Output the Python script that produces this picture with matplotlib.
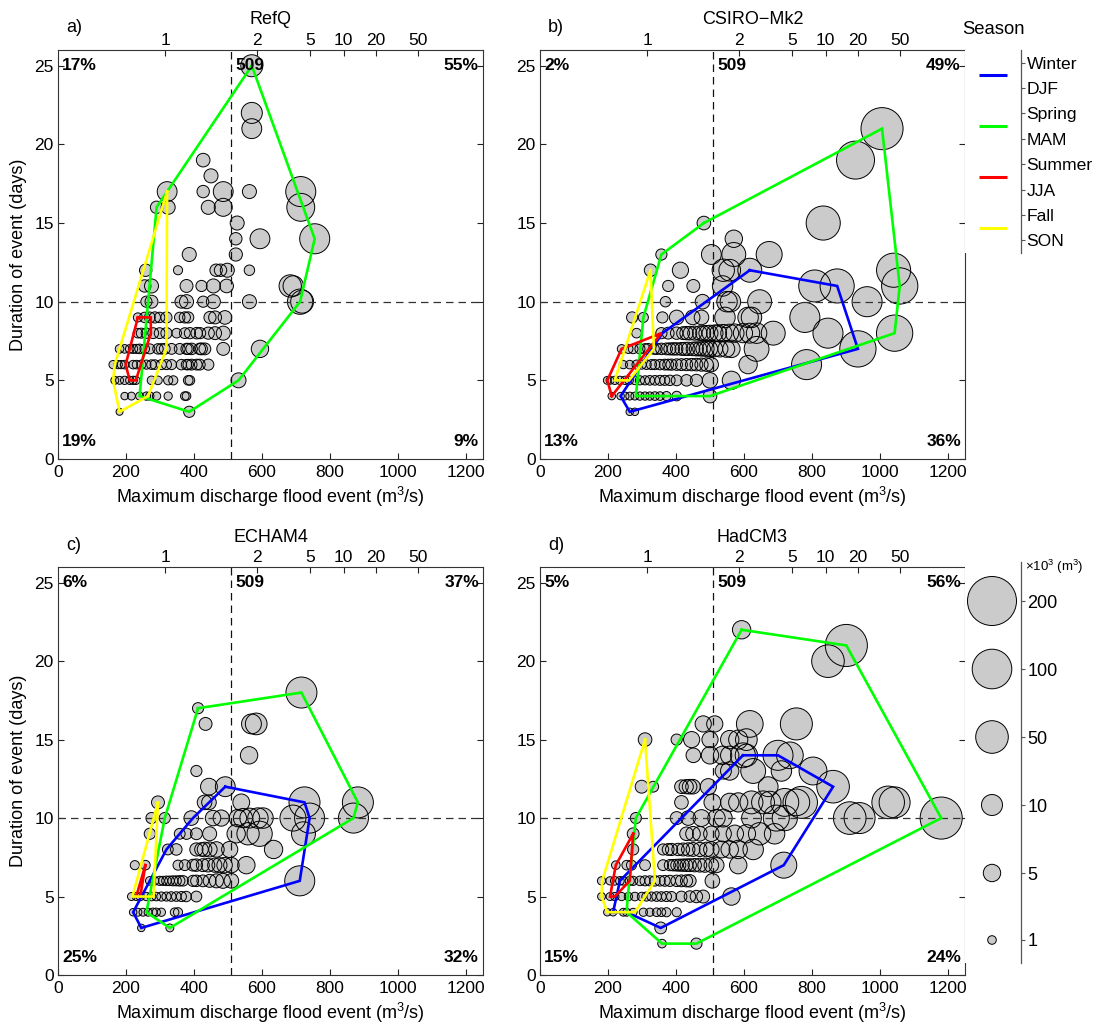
import numpy as np
import matplotlib
matplotlib.use("Agg")
import matplotlib.pyplot as plt

plt.rcParams['font.family'] = ['Liberation Sans', 'DejaVu Sans']
plt.rcParams['font.size'] = 12
plt.rcParams['mathtext.fontset'] = 'custom'
plt.rcParams['mathtext.rm'] = 'Liberation Sans'

# ---------------------------------------------------------------- data
Q_THRESHOLD = 509          # m3/s
D_THRESHOLD = 10           # days

RETURN_PERIODS = ["1", "2", "5", "10", "20", "50"]
RETURN_PERIOD_Q = [315, 585, 741, 840, 934, 1058]

SEASONS = ["Winter", "DJF", "Spring", "MAM", "Summer", "JJA", "Fall", "SON"]
VOLUME_LEGEND = [200, 100, 50, 10, 5, 1]   # x10^3 m3

# RefQ events: peak discharge, duration, volume
refq_q = [570, 570, 570, 427, 450,
          321, 427, 486, 563, 714,
          290, 324, 442, 486, 714,
          527,
          523, 594, 755,
          386, 523,
          258, 353, 465, 478, 498, 563,
          255, 275, 378, 422, 457, 496, 683, 692,
          260, 275, 363, 378, 427, 457, 563, 712, 718,
          235, 255, 270, 285, 299, 319, 358, 373, 383, 447, 462, 491,
          235, 245, 260, 280, 299, 319, 349, 373, 388, 408, 418, 442, 462, 486,
          181, 196, 211, 221, 231, 240, 255, 270, 294, 304, 314, 334, 358, 378, 383, 393, 417, 422, 432, 486, 594,
          162, 177, 186, 196, 221, 231, 245, 260, 275, 285, 304, 319, 334, 363, 378, 383, 393, 408, 417, 442,
          167, 181, 196, 211, 221, 229, 275, 294, 324, 339, 383, 388, 531,
          196, 216, 240, 260, 270, 290, 324, 373, 378,
          181, 386]
refq_d = [25, 22, 21, 19, 18,
          17, 17, 17, 17, 17,
          16, 16, 16, 16, 16,
          15,
          14, 14, 14,
          13, 13,
          12, 12, 12, 12, 12, 12,
          11, 11, 11, 11, 11, 11, 11, 11,
          10, 10, 10, 10, 10, 10, 10, 10, 10,
          9, 9, 9, 9, 9, 9, 9, 9, 9, 9, 9, 9,
          8, 8, 8, 8, 8, 8, 8, 8, 8, 8, 8, 8, 8, 8,
          7, 7, 7, 7, 7, 7, 7, 7, 7, 7, 7, 7, 7, 7, 7, 7, 7, 7, 7, 7, 7,
          6, 6, 6, 6, 6, 6, 6, 6, 6, 6, 6, 6, 6, 6, 6, 6, 6, 6, 6, 6,
          5, 5, 5, 5, 5, 5, 5, 5, 5, 5, 5, 5, 5,
          4, 4, 4, 4, 4, 4, 4, 4, 4,
          3, 3]
refq_v = [11.5, 10, 8, 2.5, 2.7,
          8, 2, 8, 2.7, 35,
          2, 2.7, 2.7, 5.6, 26,
          2.7,
          2, 8, 35,
          2.7, 2.3,
          2, 1.1, 2, 2, 2.7, 1.4,
          2, 2.7, 2.2, 1.6, 2.7, 2.5, 12, 9,
          1.6, 2.2, 2.2, 2.7, 1.6, 2.7, 2.7, 18, 13,
          1.1, 1.4, 1.5, 1.6, 1.4, 1.6, 1.4, 1.6, 1.6, 1.9, 2.2, 2.5,
          1.2, 1.3, 1.4, 1.5, 1.5, 1.6, 1.2, 1.5, 1.6, 1.7, 1.6, 1.9, 2.2, 2.7,
          1, 1, 1, 1.1, 1.1, 1.2, 1.2, 1.3, 1.4, 1.4, 1.5, 1.5, 1.5, 1.6, 1.6, 1.7, 1.7, 1.8, 1.8, 2.2, 5,
          0.9, 0.9, 0.9, 1, 1, 1, 1.1, 1.1, 1.2, 1.2, 1.3, 1.3, 1.3, 1.4, 1.4, 1.4, 1.5, 1.5, 1.5, 1.6,
          0.8, 0.8, 0.9, 0.9, 0.9, 0.9, 1, 1, 1.1, 1.1, 1.2, 1.2, 3.2,
          0.7, 0.8, 0.8, 0.9, 0.9, 0.9, 0.9, 1, 1,
          0.6, 1.6]

# CSIRO-Mk2 events
csiro_q = [1006, 928, 482, 833, 570,
           357, 504, 570, 674,
           325, 413, 539, 558, 617, 1040,
           377, 451, 537, 808, 874, 1058,
           369, 478, 550, 560, 646, 962,
           271, 304, 360, 402, 449, 475, 544, 612, 622, 779,
           284, 357, 377, 402, 421, 431, 441, 455, 470, 480, 490, 500, 514, 524, 539, 558, 573, 597, 617, 637, 686, 847, 1043,
           240, 260, 274, 294, 309, 318, 335, 343, 357, 372, 382, 392, 402, 416, 426, 436, 450, 460, 470, 480, 490, 500, 514, 529, 548, 563, 637, 935,
           245, 264, 284, 299, 313, 328, 338, 353, 367, 377, 387, 402, 416, 431, 446, 460, 475, 490, 504, 612, 784,
           198, 206, 220, 235, 250, 262, 279, 294, 309, 323, 338, 353, 367, 382, 402, 431, 460, 500, 563,
           211, 237, 250, 264, 279, 294, 309, 323, 338, 353, 372, 402, 500,
           264, 279]
csiro_d = [21, 19, 15, 15, 14,
           13, 13, 13, 13,
           12, 12, 12, 12, 12, 12,
           11, 11, 11, 11, 11, 11,
           10, 10, 10, 10, 10, 10,
           9, 9, 9, 9, 9, 9, 9, 9, 9, 9,
           8, 8, 8, 8, 8, 8, 8, 8, 8, 8, 8, 8, 8, 8, 8, 8, 8, 8, 8, 8, 8, 8, 8,
           7, 7, 7, 7, 7, 7, 7, 7, 7, 7, 7, 7, 7, 7, 7, 7, 7, 7, 7, 7, 7, 7, 7, 7, 7, 7, 7, 7,
           6, 6, 6, 6, 6, 6, 6, 6, 6, 6, 6, 6, 6, 6, 6, 6, 6, 6, 6, 6, 6,
           5, 5, 5, 5, 5, 5, 5, 5, 5, 5, 5, 5, 5, 5, 5, 5, 5, 5, 5,
           4, 4, 4, 4, 4, 4, 4, 4, 4, 4, 4, 4, 4,
           3, 3]
csiro_v = [120, 85, 2.5, 58, 5,
           1.6, 8, 15, 20,
           2, 4, 12, 11, 15, 58,
           1.6, 2.2, 9, 46, 58, 72,
           1.4, 3, 9, 9, 15, 35,
           1.6, 1.3, 1.6, 3, 3, 3, 9, 9, 9, 35,
           1.2, 1.6, 1.8, 2, 2.2, 2.4, 2.5, 2.7, 3, 3.2, 3.5, 3.8, 4.2, 4.5, 5, 5.5, 6, 7, 8, 9, 15, 35, 72,
           1, 1.1, 1.2, 1.3, 1.4, 1.5, 1.5, 1.6, 1.7, 1.8, 1.9, 2, 2, 2.2, 2.3, 2.4, 2.5, 2.7, 2.8, 3, 3.2, 3.4, 3.7, 4, 4.5, 5, 17, 72,
           0.9, 1, 1.1, 1.1, 1.2, 1.3, 1.3, 1.4, 1.5, 1.5, 1.6, 1.7, 1.8, 1.9, 2, 2.1, 2.3, 2.5, 2.8, 6, 35,
           0.8, 0.8, 0.9, 0.9, 0.9, 1, 1, 1.1, 1.1, 1.2, 1.2, 1.3, 1.3, 1.4, 1.5, 1.7, 1.9, 3.5, 6,
           0.7, 0.7, 0.8, 0.8, 0.8, 0.9, 0.9, 0.9, 1, 1, 1.1, 1.2, 2.5,
           0.7, 0.7]

# ECHAM4 events
echam_q = [716, 412, 434, 569, 583, 562, 407, 444, 492,
           294, 431, 444, 539, 725, 882,
           275, 314, 392, 456, 480, 529, 544, 564, 588, 603, 691, 740, 869,
           270, 358, 378, 407, 446, 524, 559, 593, 722,
           323, 348, 407, 422, 431, 446, 466, 505, 634,
           226, 257, 353, 373, 397, 407, 426, 441, 461, 475, 490, 510, 554,
           270, 284, 299, 309, 319, 328, 338, 348, 358, 368, 397, 407, 426, 446, 466, 485, 510, 711,
           216, 230, 242, 260, 275, 289, 304, 319, 333, 348, 363, 377, 407,
           221, 235, 250, 265, 279, 289, 304, 343, 353,
           245, 329]
echam_d = [18, 17, 16, 16, 16, 14, 13, 12, 12,
           11, 11, 11, 11, 11, 11,
           10, 10, 10, 10, 10, 10, 10, 10, 10, 10, 10, 10, 10,
           9, 9, 9, 9, 9, 9, 9, 9, 9,
           8, 8, 8, 8, 8, 8, 8, 8, 8,
           7, 7, 7, 7, 7, 7, 7, 7, 7, 7, 7, 7, 7,
           6, 6, 6, 6, 6, 6, 6, 6, 6, 6, 6, 6, 6, 6, 6, 6, 6, 6,
           5, 5, 5, 5, 5, 5, 5, 5, 5, 5, 5, 5, 5,
           4, 4, 4, 4, 4, 4, 4, 4, 4,
           3, 3]
echam_v = [40, 1.6, 2.2, 8, 11, 5, 1.6, 4.5, 8,
           2.2, 3, 3, 4.5, 40, 40,
           1.6, 1.6, 3, 3.5, 4, 5, 7, 8, 9, 9, 20, 35, 35,
           1.6, 1.5, 1.6, 1.8, 2.7, 6, 12, 18, 15,
           1.5, 1.7, 2.3, 2.5, 3, 3.2, 3.5, 4, 6,
           1.1, 1.2, 1.3, 1.5, 1.8, 2, 2.2, 2.5, 2.8, 3.2, 3.5, 3.5, 5,
           1, 1, 1.1, 1.1, 1.2, 1.2, 1.3, 1.3, 1.4, 1.4, 1.6, 1.7, 1.8, 2.2, 2.7, 3.2, 3, 35,
           0.8, 0.8, 0.9, 0.9, 1, 1, 1.1, 1.1, 1.2, 1.2, 1.3, 1.4, 1.5,
           0.7, 0.8, 0.8, 0.8, 0.9, 0.9, 0.9, 1, 1.1,
           0.7, 0.8]

# HadCM3 events
hadcm_q = [593, 901, 847,
           480, 514, 617, 754,
           309, 402, 446, 500, 558, 583, 607,
           451, 500, 537, 558, 597, 607, 700, 735,
           539, 558, 627, 710, 803,
           299, 333, 416, 430, 440, 450, 495, 671, 862,
           416, 507, 558, 583, 622, 656, 676, 720, 754, 769, 1024, 1043,
           282, 402, 436, 475, 519, 539, 622, 695, 720, 911, 940, 1180,
           274, 431, 450, 470, 504, 539, 573, 607, 646, 690,
           274, 362, 377, 387, 406, 421, 436, 450, 470, 490, 504, 534, 558, 583, 627,
           223, 255, 269, 309, 362, 382, 392, 402, 411, 421, 431, 441, 455, 470, 485, 504, 519, 583, 717,
           181, 206, 220, 235, 245, 264, 274, 294, 309, 323, 338, 353, 367, 382, 402, 416, 431, 441, 507,
           181, 206, 220, 240, 260, 279, 299, 313, 328, 343, 357, 372, 387, 416, 441, 460, 480, 563,
           198, 215, 245, 255, 274, 304, 323, 343, 357, 372, 402,
           355, 359, 460]
hadcm_d = [22, 21, 20,
           16, 16, 16, 16,
           15, 15, 15, 15, 15, 15, 15,
           14, 14, 14, 14, 14, 14, 14, 14,
           13, 13, 13, 13, 13,
           12, 12, 12, 12, 12, 12, 12, 12, 12,
           11, 11, 11, 11, 11, 11, 11, 11, 11, 11, 11, 11,
           10, 10, 10, 10, 10, 10, 10, 10, 10, 10, 10, 10,
           9, 9, 9, 9, 9, 9, 9, 9, 9, 9,
           8, 8, 8, 8, 8, 8, 8, 8, 8, 8, 8, 8, 8, 8, 8,
           7, 7, 7, 7, 7, 7, 7, 7, 7, 7, 7, 7, 7, 7, 7, 7, 7, 7, 7,
           6, 6, 6, 6, 6, 6, 6, 6, 6, 6, 6, 6, 6, 6, 6, 6, 6, 6, 6,
           5, 5, 5, 5, 5, 5, 5, 5, 5, 5, 5, 5, 5, 5, 5, 5, 5, 5,
           4, 4, 4, 4, 4, 4, 4, 4, 4, 4, 4,
           3, 2, 2]
hadcm_v = [6, 120, 50,
           4, 4, 22, 46,
           2.5, 1.6, 4, 4, 6, 7, 11,
           3, 5, 6, 6, 17, 12, 35, 22,
           4, 6, 17, 9, 26,
           2.2, 1.5, 2.5, 2.8, 3, 3, 4, 8, 50,
           2.5, 4.5, 6, 7, 13, 13, 12, 26, 22, 46, 50, 40,
           1.6, 2.2, 3, 4.5, 5, 5.5, 8, 20, 18, 50, 40, 120,
           1.8, 2.5, 3, 3, 3.5, 4, 5, 6, 12, 9,
           1.6, 1.6, 1.8, 1.9, 2, 2.2, 2.4, 2.6, 2.8, 3, 3.5, 4.5, 5, 6, 9,
           1, 1.2, 1.3, 1.5, 1.5, 1.6, 1.7, 1.8, 1.9, 2, 2.1, 2.2, 2.4, 2.6, 2.8, 3, 3.3, 5, 20,
           0.9, 0.9, 1, 1, 1, 1.1, 1.1, 1.2, 1.3, 1.3, 1.4, 1.4, 1.5, 1.6, 1.7, 1.8, 1.9, 2, 3,
           0.8, 0.8, 0.9, 0.9, 0.9, 1, 1, 1.1, 1.1, 1.2, 1.2, 1.3, 1.3, 1.5, 1.7, 2, 2.2, 5,
           0.7, 0.7, 0.8, 0.8, 0.8, 0.9, 0.9, 1, 1, 1.1, 1.1,
           1.8, 1, 1.6]

# Seasonal envelopes (hull vertices: discharge, duration)
refq_hulls = {
    "DJF": [],
    "MAM": [(570, 25), (755, 14), (712, 10), (531, 5), (386, 3), (240, 4), (290, 16), (321, 17)],
    "JJA": [(235, 9), (273, 9), (273, 8), (229, 5), (211, 5), (199, 6)],
    "SON": [(321, 17), (319, 7), (265, 4), (181, 3), (162, 5), (167, 6)],
}
csiro_hulls = {
    "DJF": [(617, 12), (874, 11), (935, 7), (264, 3), (237, 4), (360, 8)],
    "MAM": [(482, 15), (1006, 21), (1058, 11), (1043, 8), (500, 4), (282, 4), (304, 9), (357, 13)],
    "JJA": [(211, 4), (198, 5), (240, 7), (357, 8)],
    "SON": [(325, 12), (335, 7), (262, 5), (220, 5)],
}
echam_hulls = {
    "DJF": [(492, 12), (725, 11), (740, 10), (711, 6), (245, 3), (221, 4), (319, 8), (397, 10)],
    "MAM": [(412, 17), (716, 18), (882, 11), (869, 10), (329, 3), (260, 4), (314, 10)],
    "JJA": [(257, 7), (242, 5), (230, 5)],
    "SON": [(294, 11), (281, 5), (219, 5)],
}
hadcm_hulls = {
    "DJF": [(597, 14), (700, 14), (862, 12), (717, 7), (355, 3), (255, 4), (215, 4), (235, 6)],
    "MAM": [(593, 22), (901, 21), (1180, 10), (460, 2), (359, 2), (255, 4), (258, 5), (282, 10)],
    "JJA": [(274, 9), (264, 6), (220, 5), (206, 5), (223, 7)],
    "SON": [(309, 15), (338, 6), (279, 4), (198, 4), (181, 5), (183, 6)],
}

# share of events per quadrant: upper-left, upper-right, lower-left, lower-right
refq_pct = ["17%", "55%", "19%", "9%"]
csiro_pct = ["2%", "49%", "13%", "36%"]
echam_pct = ["6%", "37%", "25%", "32%"]
hadcm_pct = ["5%", "56%", "15%", "24%"]

# ---------------------------------------------------------------- style
SEASON_COLORS = {"DJF": (0, 0, 1), "MAM": (0, 1, 0), "JJA": (1, 0, 0), "SON": (1, 1, 0)}
FACE = "#cbcbcb"
DPI = 100
W, H = 1095, 1028
TICK_FS = 12.5
LABEL_FS = 13

# bubble radius (pixels) as a function of volume
_SIZE_V = [0.5, 1, 5, 10, 50, 100, 200]
_SIZE_R = [3.2, 4.3, 8.7, 10.5, 16.3, 19.8, 24.5]


def marker_area(v):
    r = np.interp(np.log10(np.asarray(v, float)), np.log10(_SIZE_V), _SIZE_R)
    return (2 * r * 72.0 / DPI) ** 2


def fig_rect(left, top, right, bottom):
    return [left / W, 1 - bottom / H, (right - left) / W, (bottom - top) / H]


fig = plt.figure(figsize=(W / DPI, H / DPI), dpi=DPI)

panels = [
    ("a)", "RefQ", refq_q, refq_d, refq_v, refq_hulls, refq_pct, (58, 50, 483, 459), True),
    ("b)", "CSIRO\u2212Mk2", csiro_q, csiro_d, csiro_v, csiro_hulls, csiro_pct, (540, 50, 965, 459), False),
    ("c)", "ECHAM4", echam_q, echam_d, echam_v, echam_hulls, echam_pct, (58, 567, 483, 975), True),
    ("d)", "HadCM3", hadcm_q, hadcm_d, hadcm_v, hadcm_hulls, hadcm_pct, (540, 567, 965, 975), False),
]

XMAX, YMAX = 1250, 26

for letter, title, q, d, v, hulls, pct, rect, left_col in panels:
    ax = fig.add_axes(fig_rect(*rect))
    s = marker_area(v)
    ax.scatter(q, d, s=s, c=FACE, edgecolors="none", zorder=2)
    ax.scatter(q, d, s=s, facecolors="none", edgecolors="black", linewidths=0.7, zorder=3)

    ax.axhline(D_THRESHOLD, color="#333333", lw=0.9, ls=(0, (6, 4)), zorder=3.5)
    ax.axvline(Q_THRESHOLD, color="#111111", lw=0.9, ls=(0, (6, 4)), zorder=3.5)

    for season in ["DJF", "MAM", "JJA", "SON"]:
        pts = hulls[season]
        if not pts:
            continue
        xs = [p[0] for p in pts] + [pts[0][0]]
        ys = [p[1] for p in pts] + [pts[0][1]]
        ax.plot(xs, ys, color=SEASON_COLORS[season], lw=1.9, zorder=4,
                solid_joinstyle="miter")

    ax.set_xlim(0, XMAX)
    ax.set_ylim(0, YMAX)
    ax.set_xticks(range(0, 1201, 200))
    ax.set_yticks(range(0, 26, 5))
    ax.tick_params(direction="in", length=4, width=0.8, right=True, labelsize=TICK_FS,
                   colors="#222222", labelcolor="black")
    ax.tick_params(axis="x", pad=4.5)
    ax.tick_params(axis="y", pad=3)
    for sp in ax.spines.values():
        sp.set_linewidth(0.8)
        sp.set_color("#333333")
    ax.set_xlabel("Maximum discharge flood event (m$^3$/s)", fontsize=LABEL_FS, labelpad=3)
    if left_col:
        ax.set_ylabel("Duration of event (days)", fontsize=LABEL_FS, labelpad=5)

    top = ax.twiny()
    top.set_xlim(0, XMAX)
    top.set_xticks(RETURN_PERIOD_Q)
    top.set_xticklabels(RETURN_PERIODS)
    top.tick_params(direction="in", length=4, width=0.8, labelsize=TICK_FS, pad=1.5,
                    colors="#222222", labelcolor="black")
    for sp in top.spines.values():
        sp.set_visible(False)

    # quadrant shares and threshold value
    kw = dict(fontsize=12.5, fontweight="bold", zorder=6)
    ax.text(12, 25, pct[0], ha="left", va="center", **kw)
    ax.text(XMAX - 12, 25, pct[1], ha="right", va="center", **kw)
    ax.text(12, 1.1, pct[2], ha="left", va="center", **kw)
    ax.text(XMAX - 12, 1.1, pct[3], ha="right", va="center", **kw)
    ax.text(Q_THRESHOLD + 14, 25, str(Q_THRESHOLD), ha="left", va="center", **kw)

    x0, y0, x1, y1 = rect
    fig.text((x0 + x1) / 2 / W, 1 - (y0 - 30) / H, title, ha="center", va="center", fontsize=13)
    fig.text((x0 + 8) / W, 1 - (y0 - 22) / H, letter, ha="left", va="center", fontsize=13)

# ---------------------------------------------------------------- season key
key = fig.add_axes(fig_rect(965, 50, 1021, 253))
key.set_xlim(965, 1021)
key.set_ylim(8, 0)
for sp in ["left", "top", "bottom"]:
    key.spines[sp].set_visible(False)
key.spines["right"].set_color("#555555")
key.spines["right"].set_linewidth(0.9)
key.set_xticks([])
key.yaxis.tick_right()
key.set_yticks(np.arange(len(SEASONS)) + 0.5)
key.set_yticklabels(SEASONS)
key.tick_params(axis="y", direction="out", length=3, width=0.8, labelsize=12.6, pad=1,
                colors="#555555", labelcolor="black")
for i, season in enumerate(["DJF", "MAM", "JJA", "SON"]):
    key.plot([979, 1007], [2 * i + 1, 2 * i + 1], color=SEASON_COLORS[season], lw=2.2,
             solid_capstyle="butt")
fig.text(962 / W, 1 - 30 / H, "Season", ha="left", va="center", fontsize=13.3)

# ---------------------------------------------------------------- volume key
vkey = fig.add_axes(fig_rect(965, 562, 1021, 963))
vkey.set_xlim(965, 1021)
vkey.set_ylim(963, 562)
for sp in ["left", "top", "bottom"]:
    vkey.spines[sp].set_visible(False)
vkey.spines["right"].set_color("#555555")
vkey.spines["right"].set_linewidth(0.9)
vkey.set_xticks([])
key_y = [601, 669, 737, 805, 873, 940]
vkey.yaxis.tick_right()
vkey.set_yticks(key_y)
vkey.set_yticklabels([str(x) for x in VOLUME_LEGEND])
vkey.tick_params(axis="y", direction="out", length=3, width=0.8, labelsize=13, pad=1.5,
                 colors="#555555", labelcolor="black")
vs = marker_area(VOLUME_LEGEND)
vkey.scatter([992] * len(key_y), key_y, s=vs, c=FACE, edgecolors="black", linewidths=0.7,
             clip_on=False)
fig.text(1025 / W, 1 - 567 / H, "\u00d710$^3$ (m$^3$)", ha="left", va="center", fontsize=9.5)

fig.savefig("out.png", dpi=DPI)
